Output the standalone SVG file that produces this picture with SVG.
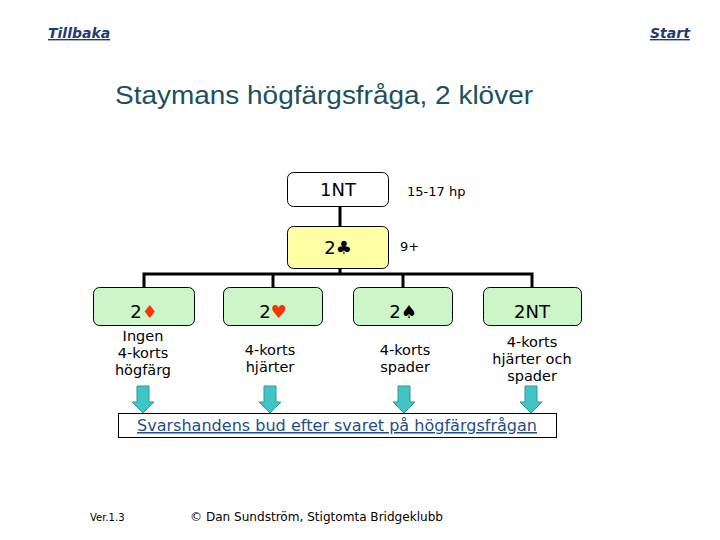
<svg xmlns="http://www.w3.org/2000/svg" width="720" height="540" viewBox="0 0 720 540">
<style>
.nav{font-family:"DejaVu Sans","Liberation Sans",sans-serif;font-size:14px;font-weight:bold;font-style:italic;fill:#1f3a7a;text-decoration:underline}
.title{font-family:"Liberation Sans",Arial,sans-serif;font-size:26px;fill:#1d4f5e}
.node{stroke:#000;stroke-width:1}
.yel{fill:#ffffa6}
.grn{fill:#ccf5c8}
.wht{fill:#fff}
.lbl{font-family:"DejaVu Sans",Verdana,sans-serif;font-size:18px;fill:#000;text-anchor:middle}
.red{fill:#ff3300}
.desc{font-family:"DejaVu Sans",Verdana,sans-serif;font-size:14.5px;fill:#000;text-anchor:middle}
.side{font-family:"DejaVu Sans",Verdana,sans-serif;font-size:13px;fill:#000}
.conn{stroke:#000;stroke-width:3;fill:none}
.arrow{fill:#40c4c4;stroke:#2a9a9a;stroke-width:1}
.link{font-family:"DejaVu Sans",Verdana,sans-serif;font-size:15px;fill:#1f4e8c;text-decoration:underline}
.foot{font-family:"DejaVu Sans",Verdana,sans-serif;fill:#000}
</style>
<rect width="720" height="540" fill="#fff"/>
<text class="nav" x="48" y="38">Tillbaka</text>
<text class="nav" x="650" y="38">Start</text>
<text class="title" x="115" y="104" textLength="418" lengthAdjust="spacingAndGlyphs">Staymans högfärgsfråga, 2 klöver</text>

<g id="connectors">
<line class="conn" x1="340" y1="207" x2="340" y2="226"/>
<line class="conn" x1="340" y1="269" x2="340" y2="274"/>
<polyline class="conn" points="144,288 144,274 532,274 532,288"/>
<line class="conn" x1="273" y1="274" x2="273" y2="288"/>
<line class="conn" x1="403" y1="274" x2="403" y2="288"/>
</g>

<g id="n1NT">
<rect class="node wht" x="287.5" y="172.5" width="101" height="34" rx="6"/>
<text class="lbl" x="338" y="196">1NT</text>
<text class="side" x="407" y="196">15-17 hp</text>
</g>
<g id="n2C">
<rect class="node yel" x="287.5" y="226.5" width="101" height="42" rx="6"/>
<text class="lbl" x="338" y="254">2♣</text>
<text class="side" x="400" y="251">9+</text>
</g>
<g id="n2D">
<rect class="node grn" x="93.5" y="287.5" width="101" height="38" rx="6"/>
<text class="lbl" x="144" y="318">2<tspan class="red">♦</tspan></text>
<text class="desc" x="143" y="341">Ingen</text>
<text class="desc" x="143" y="358">4-korts</text>
<text class="desc" x="143" y="375">högfärg</text>
</g>
<g id="n2H">
<rect class="node grn" x="223.5" y="287.5" width="99" height="38" rx="6"/>
<text class="lbl" x="273" y="318">2<tspan class="red">♥</tspan></text>
<text class="desc" x="270" y="355">4-korts</text>
<text class="desc" x="270" y="372">hjärter</text>
</g>
<g id="n2S">
<rect class="node grn" x="353.5" y="287.5" width="99" height="38" rx="6"/>
<text class="lbl" x="403" y="318">2♠</text>
<text class="desc" x="405" y="355">4-korts</text>
<text class="desc" x="405" y="372">spader</text>
</g>
<g id="n2NT">
<rect class="node grn" x="483.5" y="287.5" width="98" height="38" rx="6"/>
<text class="lbl" x="532" y="318">2NT</text>
<text class="desc" x="532" y="347">4-korts</text>
<text class="desc" x="532" y="364">hjärter och</text>
<text class="desc" x="532" y="381">spader</text>
</g>

<g id="arrows">
<path class="arrow" d="M137,386 H149 V402 H154 L143,413 L132,402 H137 Z"/>
<path class="arrow" d="M264,386 H276 V402 H281 L270,413 L259,402 H264 Z"/>
<path class="arrow" d="M398,386 H410 V402 H415 L404,413 L393,402 H398 Z"/>
<path class="arrow" d="M525,386 H537 V402 H542 L531,413 L520,402 H525 Z"/>
</g>

<g id="nextlink">
<rect x="118.5" y="413.5" width="438" height="24" fill="#fff" stroke="#000" stroke-width="1"/>
<text class="link" x="137" y="431" textLength="400" lengthAdjust="spacingAndGlyphs">Svarshandens bud efter svaret på högfärgsfrågan</text>
</g>

<text class="foot" x="90" y="521" font-size="10">Ver.1.3</text>
<text class="foot" x="190" y="521" font-size="13" textLength="253" lengthAdjust="spacingAndGlyphs">© Dan Sundström, Stigtomta Bridgeklubb</text>
</svg>
